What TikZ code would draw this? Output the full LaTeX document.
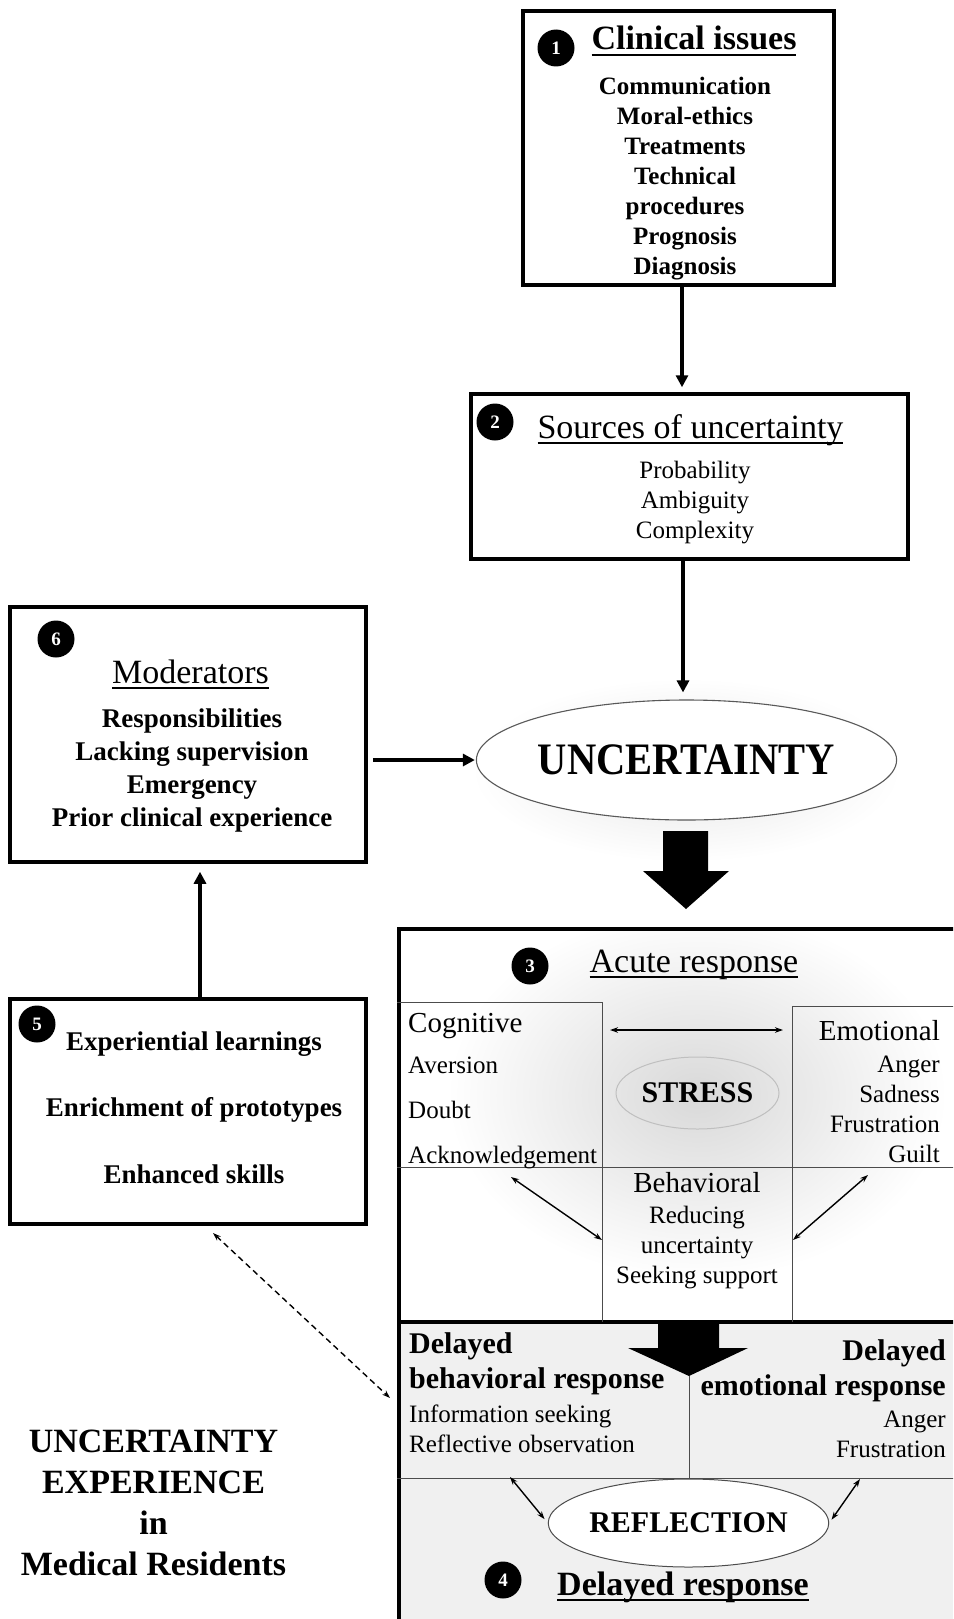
\documentclass[tikz,border=0pt]{standalone}
\usepackage{fontspec}
\usepackage{graphicx}
\setmainfont{Liberation Serif}
\usetikzlibrary{arrows.meta,shapes.geometric}
\newcommand{\fsz}[1]{\fontsize{#1}{#1}\selectfont}
\newsavebox\ulbox
\newcommand{\ulx}[1]{\sbox\ulbox{#1}\rlap{\rule[-0.19em]{\wd\ulbox}{0.07em}}\usebox\ulbox}
\begin{document}
\begin{tikzpicture}[x=1pt,y=-1pt,
  box/.style={draw, line width=3.5pt, inner sep=0pt},
  num/.style={circle, fill=black, text=white, inner sep=0pt, minimum size=37pt, font=\fsz{19}\bfseries},
  ttl/.style={anchor=base, inner sep=0pt, font=\fsz{34}},
  itb/.style={anchor=base, inner sep=0pt, font=\fsz{25}\bfseries},
  itr/.style={anchor=base, inner sep=0pt, font=\fsz{25}},
  hdr/.style={inner sep=0pt, font=\fsz{29}},
  dhd/.style={inner sep=0pt, font=\fsz{30}\bfseries},
  conn/.style={line width=3.2pt, -{Triangle[length=12pt,width=12pt]}},
  dbl/.style={line width=1.4pt, {Stealth[length=8pt,width=5.5pt]}-{Stealth[length=8pt,width=5.5pt]}},
  dasharr/.style={line width=1.4pt, dash pattern=on 6pt off 4pt, {Stealth[length=8pt,width=5.5pt]}-{Stealth[length=8pt,width=5.5pt]}},
  gline/.style={line width=1pt, draw=black!70},
  oval/.style={ellipse, inner sep=0pt}
]
\useasboundingbox (0,0) rectangle (953,1619);
\clip (0,0) rectangle (953,1619);

% ---------- glows ----------
\begin{scope}
  \clip (399,929) rectangle (953,1320);
  \shade[inner color=black!15, outer color=white] (697,1095) ellipse [x radius=250, y radius=185];
\end{scope}
\shade[inner color=black!10, outer color=white] (686,770) ellipse [x radius=215, y radius=92];
\fill[black!6] (397,1322) rectangle (953,1619);

% ---------- boxes ----------
\node[box, minimum width=311pt, minimum height=274pt] (b1) at (678.5,148) {};
\node[box, minimum width=437pt, minimum height=165pt] (b2) at (689.5,476.5) {};
\node[box, minimum width=356pt, minimum height=255pt] (b6) at (188,734.5) {};
\node[box, minimum width=356pt, minimum height=225pt] (b5) at (188,1111.5) {};
\node[box, anchor=north west, minimum width=580pt, minimum height=740pt] (big) at (397,927) {};
\draw[line width=3.5pt] (big.west |- 0,1322) -- (960,1322);

% ---------- box 1 ----------
\node[num] (n1) at (556,48) {1};
\node[ttl, font=\fsz{34}\bfseries] (t1) at (694,50) {\ulx{Clinical issues}};
\foreach \t [count=\i from 0] in {Communication,Moral-ethics,Treatments,Technical,procedures,Prognosis,Diagnosis}
  \node[itb] (ci\i) at (685,94+30*\i) {\t};

% ---------- box 2 ----------
\node[num] (n2) at (495,422) {2};
\node[ttl] (t2) at (690.5,438) {\ulx{Sources of uncertainty}};
\foreach \t [count=\i from 0] in {Probability,Ambiguity,Complexity}
  \node[itr] (si\i) at (695,478+30*\i) {\t};

% ---------- uncertainty ----------
\node[oval, draw=black!65, line width=1.1pt, fill=white, minimum width=315pt, minimum height=120pt,
      font=\fsz{45}\bfseries] (unc) at (686.5,760) {\scalebox{0.9}[1]{UNCERTAINTY}};

% ---------- box 6 ----------
\node[num] (n6) at (56,639) {6};
\node[ttl] (t6) at (190.5,683) {\ulx{Moderators}};
\foreach \t [count=\i from 0] in {Responsibilities,Lacking supervision,Emergency,Prior clinical experience}
  \node[itb, font=\fsz{27}\bfseries] (mi\i) at (192,727+33.3*\i) {\t};

% ---------- box 5 ----------
\node[num] (n5) at (37,1024) {5};
\foreach \t [count=\i from 0] in {Experiential learnings,Enrichment of prototypes,Enhanced skills}
  \node[itb, font=\fsz{27}\bfseries] (ei\i) at (194,1050+66.5*\i) {\t};

% ---------- caption ----------
\foreach \t [count=\i from 0] in {UNCERTAINTY,EXPERIENCE,in,Medical Residents}
  \node[itb, font=\fsz{34}\bfseries] (cap\i) at (153.5,1452+41*\i) {\t};

% ---------- connectors ----------
\coordinate (a12) at (682,0);
\coordinate (a2u) at (683,0);
\coordinate (a56) at (200,0);
\draw[conn, shorten >=5pt] (b1.south -| a12) -- (b2.north -| a12);
\draw[conn, shorten >=7pt] (b2.south -| a2u) -- (unc.north -| a2u);
\draw[conn, shorten <=5pt, shorten >=1pt] (b6.east |- unc.west) -- (unc.west);
\draw[conn, shorten >=8pt] (b5.north -| a56) -- (b6.south -| a56);
\coordinate (d1) at (213,1233);
\coordinate (d2) at (390,1398);
\draw[dasharr] (d1) -- (d2);

% big block arrows
\fill (663,831) -- (708,831) -- (708,871) -- (729,871) -- (686,909) -- (643,871) -- (663,871) -- cycle;
\fill (658,1320) -- (719,1320) -- (719,1348) -- (748,1348) -- (689,1376) -- (628,1348) -- (658,1348) -- cycle;

% ---------- acute response ----------
\node[num] (n3) at (530,966) {3};
\node[ttl] (t3) at (694,972) {\ulx{Acute response}};
\draw[gline] (397,1002) -- (602,1002) -- (602,1322);
\draw[gline] (792,1322) -- (792,1006) -- (960,1006);
\draw[gline] (397,1167) -- (960,1167);

\node[hdr, anchor=base west] (cog) at (408,1032) {Cognitive};
\foreach \t/\y [count=\i] in {Aversion/1073,Doubt/1118,Acknowledgement/1163}
  \node[itr, anchor=base west] (cg\i) at (408,\y) {\t};
\node[hdr, anchor=base east] (emo) at (940,1040) {Emotional};
\foreach \t [count=\i from 0] in {Anger,Sadness,Frustration,Guilt}
  \node[itr, anchor=base east] (em\i) at (940,1072+30*\i) {\t};
\node[hdr, anchor=base] (beh) at (697,1192) {Behavioral};
\foreach \t [count=\i from 0] in {Reducing,uncertainty,Seeking support}
  \node[itr] (bh\i) at (697,1223+30*\i) {\t};

\node[oval, draw=black!25, line width=1pt, minimum width=163pt, minimum height=72pt,
      font=\fsz{30}\bfseries] (stress) at (697.5,1093) {STRESS};

\coordinate (h1) at (610,1030);
\coordinate (h2) at (783,1030);
\coordinate (cb1) at (511,1177);
\coordinate (cb2) at (602,1240);
\coordinate (eb1) at (868,1175);
\coordinate (eb2) at (793,1240);
\draw[dbl] (h1) -- (h2);
\draw[dbl] (cb1) -- (cb2);
\draw[dbl] (eb1) -- (eb2);

% ---------- delayed response ----------
\draw[gline] (689,1376) -- (689,1478);
\draw[gline] (397,1478) -- (960,1478);

\node[dhd, anchor=base west] (dl1) at (409,1353) {Delayed};
\node[dhd, anchor=base west] (dl2) at (409,1388) {behavioral response};
\node[itr, anchor=base west] (dl3) at (409,1422) {Information seeking};
\node[itr, anchor=base west] (dl4) at (409,1452) {Reflective observation};
\node[dhd, anchor=base east] (dr1) at (946,1360) {Delayed};
\node[dhd, anchor=base east] (dr2) at (946,1395) {emotional response};
\node[itr, anchor=base east] (dr3) at (946,1427) {Anger};
\node[itr, anchor=base east] (dr4) at (946,1457) {Frustration};

\node[oval, draw=black!70, line width=1pt, fill=white, minimum width=225pt, minimum height=88pt,
      font=\fsz{30}\bfseries] (refl) at (688.5,1523) {REFLECTION};
\coordinate (rl) at (510,1477);
\coordinate (rr) at (860,1479);
\draw[dbl, shorten >=5pt] (rl) -- (refl.west);
\draw[dbl, shorten >=4pt] (rr) -- (refl.east);

\node[num] (n4) at (503,1580) {4};
\node[ttl, font=\fsz{34}\bfseries] (t4) at (683,1595) {\ulx{Delayed response}};
\end{tikzpicture}
\end{document}
